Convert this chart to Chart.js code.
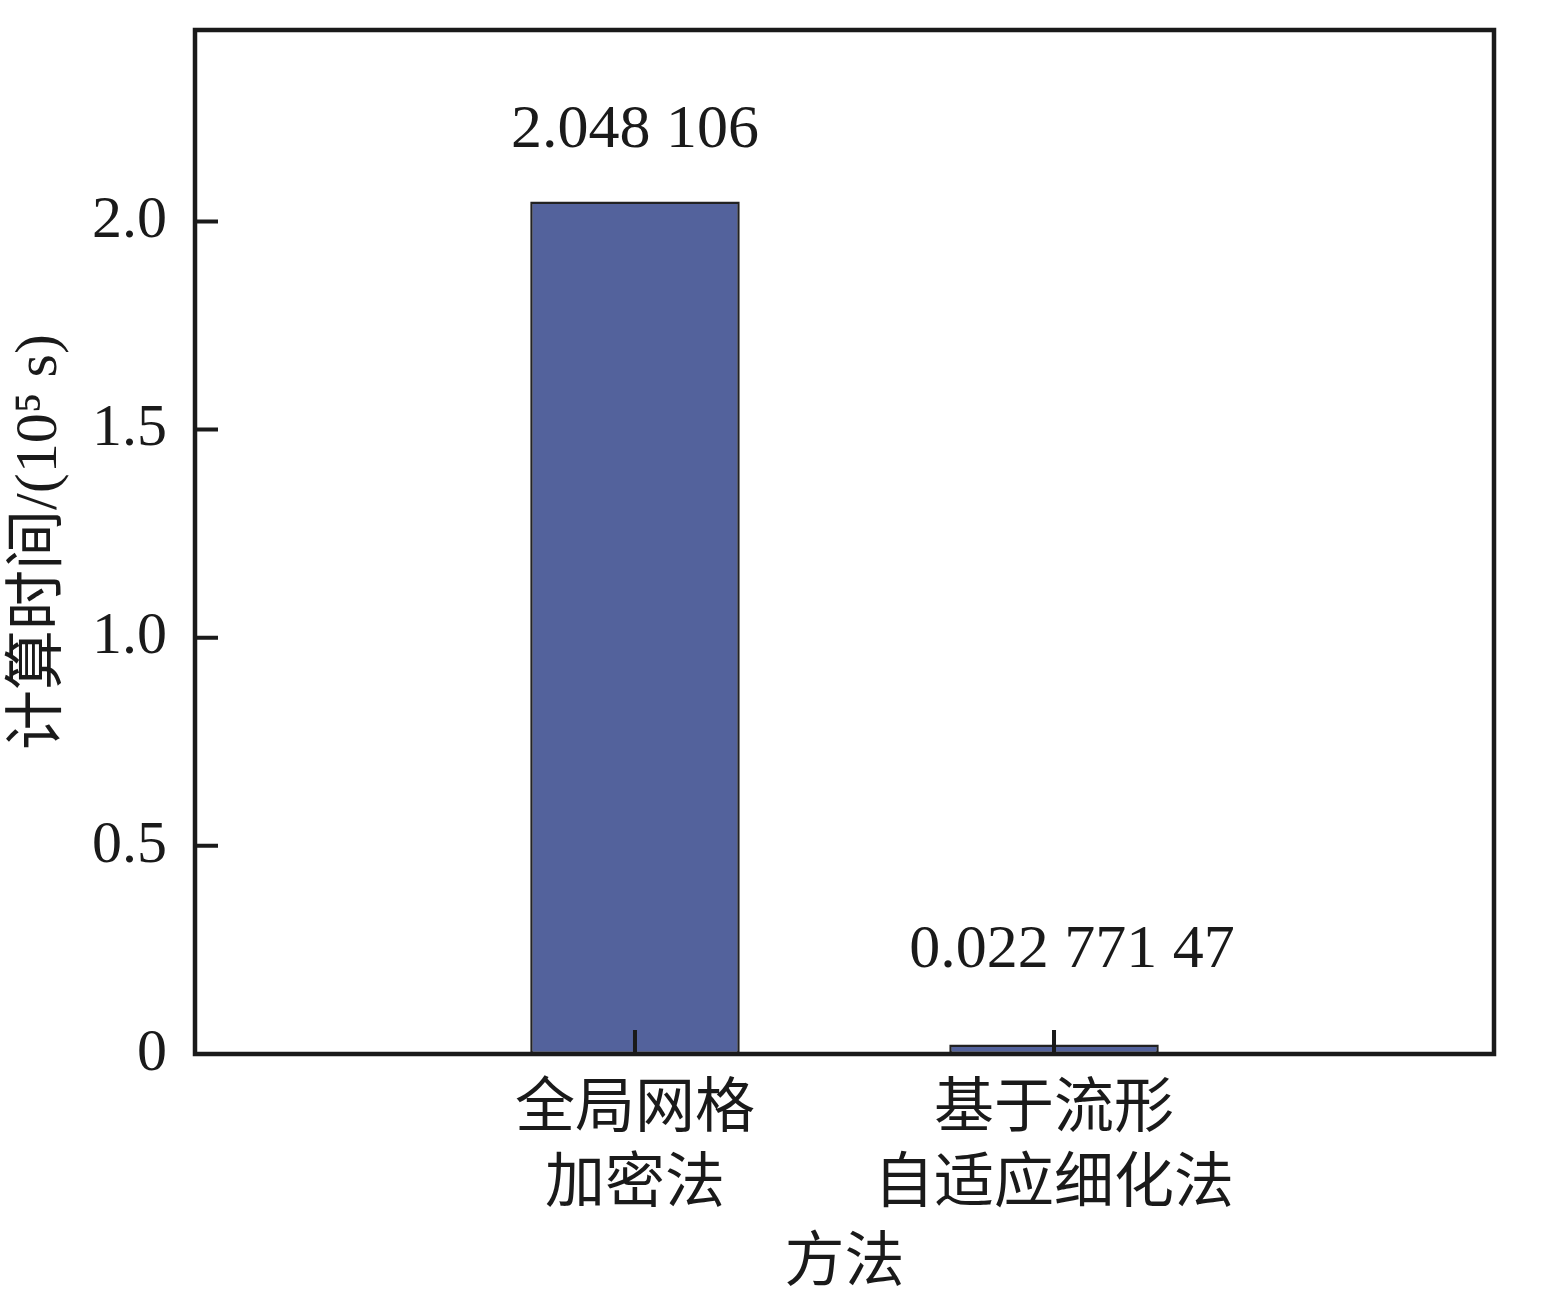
<!DOCTYPE html>
<html>
<head>
<meta charset="utf-8">
<script src="https://cdn.jsdelivr.net/npm/chart.js@4.4.1/dist/chart.umd.min.js"></script>
<style>
  body { margin: 0; background: #fff; }
  canvas { display: block; }
</style>
</head>
<body>
<canvas id="myChart" width="1542" height="1306"></canvas>
<script>
// data
const categories = [["全局网格", "加密法"], ["基于流形", "自适应细化法"]];
const positions = [0, 1];
const times = [2.048106, 0.02277147];
const valueLabels = ["2.048 106", "0.022 771 47"];
const yTicks = [0, 0.5, 1.0, 1.5, 2.0];
const yTickLabels = ["0", "0.5", "1.0", "1.5", "2.0"];

const FONT = "'Liberation Serif', 'Noto Sans CJK SC', serif";

// frame, inward ticks and value labels
const framePlugin = {
  id: 'frame',
  afterDatasetsDraw(chart) {
    const ctx = chart.ctx;
    const a = chart.chartArea;
    const xs = chart.scales.x, ys = chart.scales.y;
    ctx.save();
    ctx.strokeStyle = '#1a1a1a';
    ctx.lineWidth = 4;
    ctx.beginPath();
    yTicks.forEach(v => {
      if (v === 0) return;
      const py = ys.getPixelForValue(v);
      ctx.moveTo(a.left, py);
      ctx.lineTo(a.left + 23, py);
    });
    positions.forEach(v => {
      const px = xs.getPixelForValue(v);
      ctx.moveTo(px, a.bottom);
      ctx.lineTo(px, a.bottom - 24);
    });
    ctx.stroke();
    ctx.lineWidth = 4.5;
    ctx.strokeRect(a.left, a.top, a.right - a.left, a.bottom - a.top);

    // value labels above the bars
    const meta = chart.getDatasetMeta(0);
    const offs = [[0, -71], [18, -94]];
    ctx.fillStyle = '#1a1a1a';
    ctx.font = '62px ' + FONT;
    ctx.textAlign = 'center';
    ctx.textBaseline = 'middle';
    meta.data.forEach((bar, i) => {
      ctx.fillText(valueLabels[i], bar.x + offs[i][0], bar.y + offs[i][1]);
    });
    ctx.restore();
  }
};

new Chart("myChart", {
  type: "bar",
  data: {
    datasets: [{
      data: positions.map((p, i) => ({ x: p, y: times[i] })),
      backgroundColor: "#53629c",
      borderColor: "#222222",
      borderWidth: 2.5,
      borderSkipped: false,
      barPercentage: 0.5,
      categoryPercentage: 1.0
    }]
  },
  options: {
    responsive: false,
    animation: false,
    layout: { padding: { top: 30, right: 48, bottom: 0, left: 0 } },
    plugins: {
      legend: { display: false },
      tooltip: { enabled: false }
    },
    scales: {
      x: {
        type: "linear",
        min: -1.05,
        max: 2.05,
        bounds: "data",
        offset: false,
        grid: { display: false, drawTicks: false },
        border: { display: false },
        afterBuildTicks: scale => { scale.ticks = positions.map(v => ({ value: v })); },
        afterFit: scale => {
          scale.height = 1306 - 1054;
          scale.paddingLeft = 0;
          scale.paddingRight = 0;
        },
        ticks: {
          padding: 20,
          color: "#1a1a1a",
          font: { family: FONT, size: 60, lineHeight: 1.25 },
          maxRotation: 0,
          autoSkip: false,
          callback: (v) => categories[positions.indexOf(v)]
        },
        title: {
          display: true,
          text: "方法",
          color: "#1a1a1a",
          font: { family: FONT, size: 60, lineHeight: 1.2 },
          padding: { top: 0, bottom: 5 }
        }
      },
      y: {
        min: 0,
        max: 2.46,
        bounds: "data",
        grid: { display: false, drawTicks: false },
        border: { display: false },
        afterBuildTicks: scale => { scale.ticks = yTicks.map(v => ({ value: v })); },
        afterFit: scale => {
          scale.width = 195;
          scale.paddingTop = 0;
          scale.paddingBottom = 0;
        },
        ticks: {
          padding: 28,
          color: "#1a1a1a",
          font: { family: FONT, size: 60 },
          callback: (v) => yTickLabels[yTicks.indexOf(v)]
        },
        title: {
          display: true,
          text: "计算时间/(10⁵ s)",
          color: "#1a1a1a",
          font: { family: FONT, size: 60, lineHeight: 1.2 },
          padding: { top: 4, bottom: 0 }
        }
      }
    }
  },
  plugins: [framePlugin]
});
</script>
</body>
</html>
